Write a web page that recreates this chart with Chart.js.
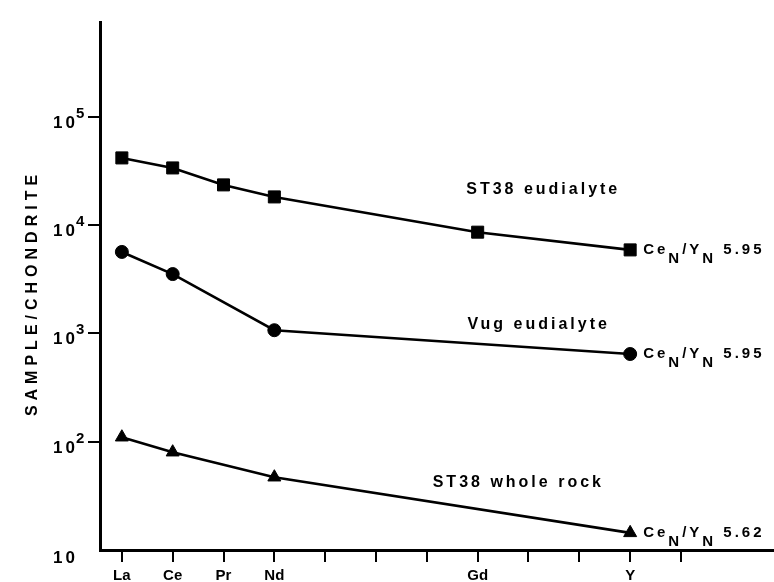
<!DOCTYPE html>
<html>
<head>
<meta charset="utf-8">
<script src="https://cdn.jsdelivr.net/npm/chart.js@4"></script>
<style>
    html, body { margin: 0; padding: 0; background: #fff; }
    canvas { display: block; }
</style>
</head>
<body>
<canvas id="graficoREE" width="774" height="582"></canvas>
<script>
// Elementos del eje x (posiciones igualmente espaciadas)
const elementos = ['La', 'Ce', 'Pr', 'Nd', 'Pm', 'Sm', 'Eu', 'Gd', 'Tb', 'Dy', 'Y', 'Ho'];
const etiquetasVisibles = ['La', 'Ce', 'Pr', 'Nd', 'Gd', 'Y'];

// Valores normalizados a condrita (null = sin dato)
const eudialitaST38 = [41700, 33700, 23500, 18200, null, null, null, 8600, null, null, 5900, null];
const eudialitaVug  = [5650, 3530, null, 1070, null, null, null, null, null, null, 645, null];
const rocaTotalST38 = [110, 80, null, 47, null, null, null, null, null, null, 14.4, null];

const nombresSeries = ['ST38 eudialyte', 'Vug eudialyte', 'ST38 whole rock'];
const cocientes = ['5.95', '5.95', '5.62'];
const marcadores = ['rect', 'circle', 'triangle'];
const radios = [8.5, 6.5, 7.5];

// Marcas del eje y (potencias de 10)
const ticksY = [10, 100, 1000, 10000, 100000];

// Donde va el nombre de cada serie (en unidades de los ejes)
const posicionNombres = [[8.29, 21100], [8.2, 1200], [7.8, 41.6]];

const fuente = (t) => `bold ${t}px "Liberation Sans", Arial, sans-serif`;

function aPuntos(valores) {
    return valores
        .map((v, i) => ({ x: i, y: v }))
        .filter(p => p.y !== null);
}

function textoCociente(ctx, x0, y0, valor) {
    const partes = [['Ce', 0], ['N', 9], ['/', 0], ['Y', 0], ['N', 9], [' ' + valor, 0]];
    let x = x0;
    partes.forEach(([t, dy]) => {
        ctx.fillText(t, x, y0 + dy);
        x += ctx.measureText(t).width;
    });
}

const textosPlugin = {
    id: 'textos',
    afterDraw(chart) {
        const { ctx, chartArea, scales: { x, y } } = chart;
        ctx.save();
        ctx.fillStyle = '#000';

        // Etiquetas del eje y: 10, 10^2 ... 10^5
        ticksY.forEach(v => {
            const py = y.getPixelForValue(v);
            const exp = Math.round(Math.log10(v));
            ctx.font = fuente(17);
            ctx.letterSpacing = '3px';
            ctx.textAlign = 'right';
            ctx.textBaseline = 'alphabetic';
            if (exp === 1) {
                ctx.fillText('10', chartArea.left - 22, py + 13);
            } else {
                ctx.fillText('10', chartArea.left - 22, py + 11);
                ctx.textAlign = 'left';
                ctx.font = fuente(15);
                ctx.fillText(String(exp), chartArea.left - 24, py + 1);
            }
        });

        // Titulo del eje y
        ctx.save();
        ctx.translate(33, (chartArea.top + chartArea.bottom) / 2 + 7);
        ctx.rotate(-Math.PI / 2);
        ctx.font = fuente(16);
        ctx.letterSpacing = '5px';
        ctx.textAlign = 'center';
        ctx.textBaseline = 'middle';
        ctx.fillText('SAMPLE/CHONDRITE', 0, 0);
        ctx.restore();

        // Nombres de las series
        ctx.font = fuente(16);
        ctx.letterSpacing = '3px';
        ctx.textAlign = 'center';
        ctx.textBaseline = 'middle';
        posicionNombres.forEach(([px, pv], i) => {
            ctx.fillText(nombresSeries[i], x.getPixelForValue(px), y.getPixelForValue(pv));
        });

        // Cocientes CeN/YN al final de cada serie
        ctx.font = fuente(15);
        ctx.letterSpacing = '3px';
        ctx.textAlign = 'left';
        ctx.textBaseline = 'middle';
        chart.data.datasets.forEach((ds, i) => {
            const puntos = chart.getDatasetMeta(i).data;
            const ultimo = puntos[puntos.length - 1];
            textoCociente(ctx, ultimo.x + 13, ultimo.y, cocientes[i]);
        });

        ctx.restore();
    }
};

const series = [eudialitaST38, eudialitaVug, rocaTotalST38];

new Chart(document.getElementById('graficoREE').getContext('2d'), {
    type: 'line',
    data: {
        datasets: series.map((valores, i) => ({
            label: nombresSeries[i],
            data: aPuntos(valores),
            borderColor: '#000',
            backgroundColor: '#000',
            borderWidth: 2.6,
            pointStyle: marcadores[i],
            pointRadius: radios[i],
            pointBorderWidth: 1,
            pointBackgroundColor: '#000',
            tension: 0
        }))
    },
    options: {
        responsive: false,
        animation: false,
        layout: { autoPadding: false, padding: { top: 22, right: 0, left: 0, bottom: 0 } },
        plugins: {
            legend: { display: false },
            tooltip: { enabled: false }
        },
        scales: {
            x: {
                type: 'linear',
                min: -0.43,
                max: 12.83,
                afterBuildTicks: s => { s.ticks = elementos.map((e, i) => ({ value: i })); },
                afterFit: s => { s.height = 32; },
                grid: { drawOnChartArea: false, drawTicks: true, tickLength: 12, color: '#000', lineWidth: 2 },
                border: { color: '#000', width: 3 },
                ticks: {
                    autoSkip: false,
                    maxRotation: 0,
                    padding: 5,
                    color: '#000',
                    font: { family: '"Liberation Sans", Arial, sans-serif', size: 15, weight: 'bold' },
                    callback: v => etiquetasVisibles.includes(elementos[v]) ? elementos[v] : ''
                }
            },
            y: {
                type: 'logarithmic',
                min: 10,
                max: 750000,
                afterBuildTicks: s => { s.ticks = ticksY.filter(v => v > 10).map(v => ({ value: v })); },
                afterFit: s => { s.width = 100; },
                grid: { drawOnChartArea: false, drawTicks: true, tickLength: 12, color: '#000', lineWidth: 2 },
                border: { color: '#000', width: 3 },
                ticks: { display: false }
            }
        }
    },
    plugins: [textosPlugin]
});
</script>
</body>
</html>
